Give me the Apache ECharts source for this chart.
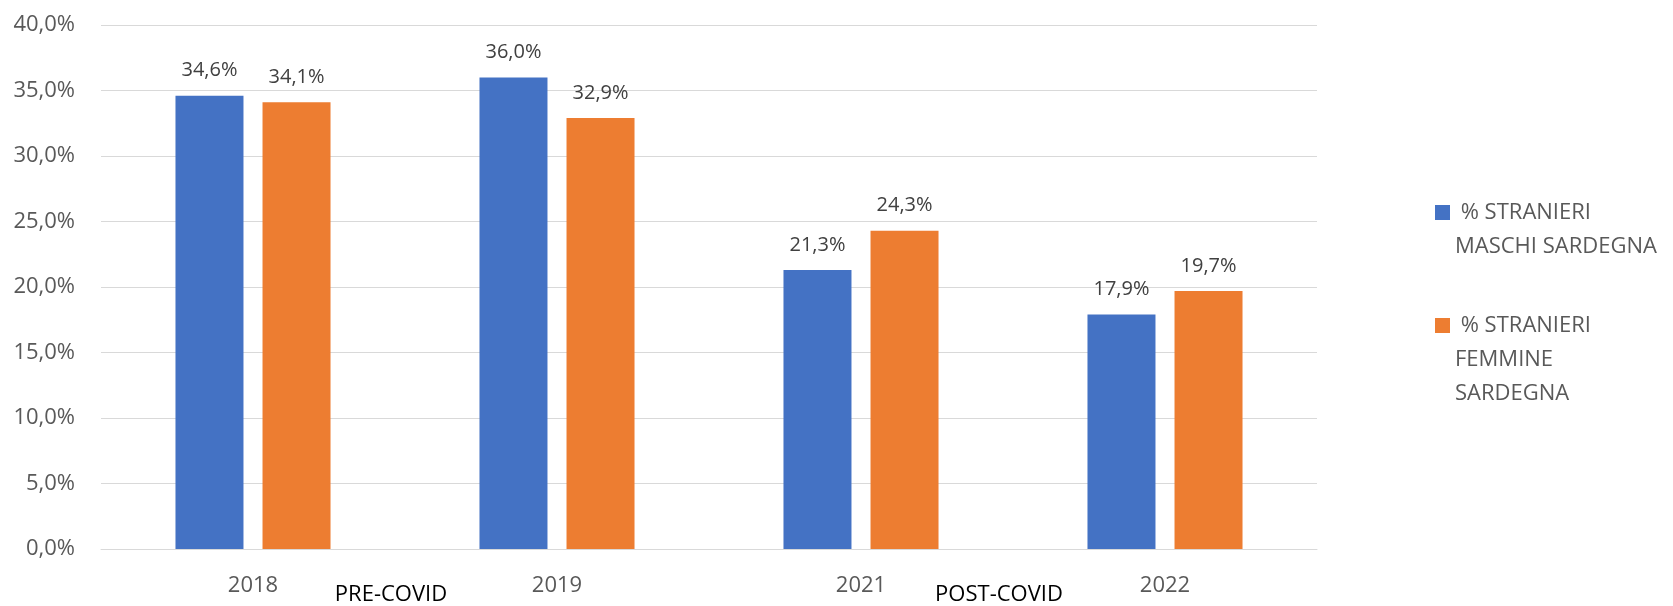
<!DOCTYPE html>
<html>
<head>
<meta charset="utf-8">
<script src="https://cdn.jsdelivr.net/npm/echarts@6/dist/echarts.min.js"></script>
<style>
html,body{margin:0;padding:0;background:#fff;}
#chart{width:1673px;height:606px;}
</style>
</head>
<body>
<div id="chart"></div>
<script>
const categories = ['2018', '2019', '2021', '2022'];
const periodLabels = ['PRE-COVID', 'POST-COVID'];
const seriesNames = ['% STRANIERI MASCHI SARDEGNA', '% STRANIERI FEMMINE SARDEGNA'];
const maschi = [34.6, 36.0, 21.3, 17.9];
const femmine = [34.1, 32.9, 24.3, 19.7];
const yTicks = { min: 0, max: 40, interval: 5 };

const FONT = 'Open Sans';
const fmt = v => v.toFixed(1).replace('.', ',') + '%';

const chart = echarts.init(document.getElementById('chart'), null, { renderer: 'canvas' });
const labelOpt = {
  show: true, position: 'top', distance: 15,
  color: '#404040', fontFamily: FONT, fontSize: 20,
  formatter: p => fmt(p.value)
};
chart.setOption({
  animation: false,
  backgroundColor: '#ffffff',
  textStyle: { fontFamily: FONT },
  grid: { left: 101, right: 356, top: 25, bottom: 53, containLabel: false },
  legend: {
    orient: 'vertical', left: 1435, top: 161.5, padding: 0,
    itemWidth: 15, itemHeight: 15, itemGap: -23,
    icon: 'rect',
    textStyle: { color: '#595959', fontFamily: FONT, fontSize: 22, lineHeight: 34 },
    data: [seriesNames[0], seriesNames[1]],
    formatter: name => name === seriesNames[0]
      ? '\n % STRANIERI\nMASCHI SARDEGNA'
      : '\n\n % STRANIERI\nFEMMINE\nSARDEGNA'
  },
  xAxis: [
    {
      type: 'category', data: categories, position: 'bottom',
      axisLine: { show: true, lineStyle: { color: '#d9d9d9', width: 1 } },
      axisTick: { show: false },
      axisLabel: { color: '#595959', fontFamily: FONT, fontSize: 22, margin: 26 }
    },
    {
      type: 'category', data: periodLabels, position: 'bottom',
      axisLine: { show: false }, axisTick: { show: false },
      axisLabel: { color: '#000000', fontFamily: FONT, fontSize: 22, margin: 35, padding: [0, 28, 0, 0] }
    }
  ],
  yAxis: {
    type: 'value', min: yTicks.min, max: yTicks.max, interval: yTicks.interval,
    axisLine: { show: false }, axisTick: { show: false },
    splitLine: { lineStyle: { color: '#d9d9d9', width: 1 } },
    axisLabel: { color: '#595959', fontFamily: FONT, fontSize: 22, margin: 26, formatter: v => fmt(v) }
  },
  series: [
    {
      name: seriesNames[0], type: 'bar', data: maschi, xAxisIndex: 0,
      barWidth: 68, barGap: '28%',
      itemStyle: { color: '#4472c4' },
      label: labelOpt
    },
    {
      name: seriesNames[1], type: 'bar', data: femmine, xAxisIndex: 0,
      barWidth: 68, barGap: '28%',
      itemStyle: { color: '#ed7d31' },
      label: labelOpt
    }
  ]
});
</script>
</body>
</html>
